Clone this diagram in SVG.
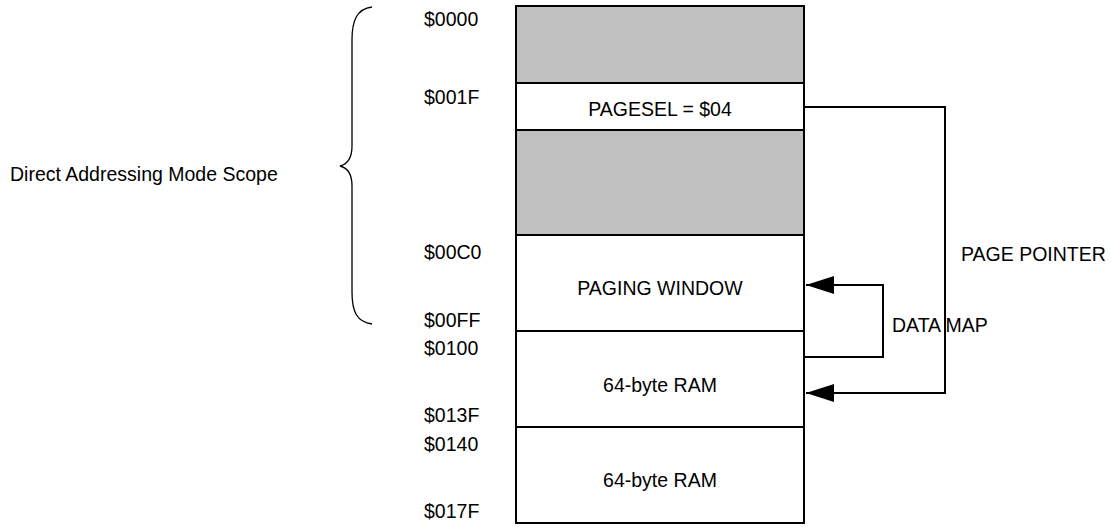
<svg xmlns="http://www.w3.org/2000/svg" width="1111" height="527" viewBox="0 0 1111 527">
<defs>
<style>
text{font-family:"Liberation Sans",Arial,sans-serif;font-size:19.5px;fill:#000}
.c{text-anchor:middle}
.blk{stroke:#000;stroke-width:2}
.gray{fill:#c0c0c0}
.white{fill:#fff}
.conn{fill:none;stroke:#000;stroke-width:2}
</style>
<marker id="ah" markerUnits="userSpaceOnUse" markerWidth="30" markerHeight="20" refX="28" refY="9" orient="auto">
<path d="M0,0 L28,9 L0,18 Z" fill="#000"/>
</marker>
</defs>
<rect width="1111" height="527" fill="#fff"/>
<g id="brace">
<path d="M372,7 C357,9 352,20 352,40 L352,146 C352,158 348,164 340,166 C348,168 352,174 352,186 L352,292 C352,312 357,322 372,324" fill="none" stroke="#000" stroke-width="1.3"/>
<text x="10" y="181">Direct Addressing Mode Scope</text>
</g>
<g id="addresses">
<text x="424" y="26">$0000</text>
<text x="424" y="104">$001F</text>
<text x="424" y="259">$00C0</text>
<text x="424" y="327">$00FF</text>
<text x="424" y="355">$0100</text>
<text x="424" y="422">$013F</text>
<text x="424" y="451">$0140</text>
<text x="424" y="518">$017F</text>
</g>
<g id="reserved1"><rect class="blk gray" x="516" y="6" width="288" height="77"/></g>
<g id="pagesel"><rect class="blk white" x="516" y="83" width="288" height="47"/><text class="c" x="660" y="116">PAGESEL = $04</text></g>
<g id="reserved2"><rect class="blk gray" x="516" y="130" width="288" height="105"/></g>
<g id="pagingwindow"><rect class="blk white" x="516" y="235" width="288" height="96"/><text class="c" x="660" y="295">PAGING WINDOW</text></g>
<g id="ram1"><rect class="blk white" x="516" y="331" width="288" height="96"/><text class="c" x="660" y="392">64-byte RAM</text></g>
<g id="ram2"><rect class="blk white" x="516" y="427" width="288" height="96"/><text class="c" x="660" y="487">64-byte RAM</text></g>
<g id="connectors">
<path class="conn" d="M804,107 L945,107 L945,393 L806,393" marker-end="url(#ah)"/>
<path class="conn" d="M804,357 L883,357 L883,285 L806,285" marker-end="url(#ah)"/>
<text x="961" y="261">PAGE POINTER</text>
<text x="892" y="332">DATA MAP</text>
</g>
</svg>
